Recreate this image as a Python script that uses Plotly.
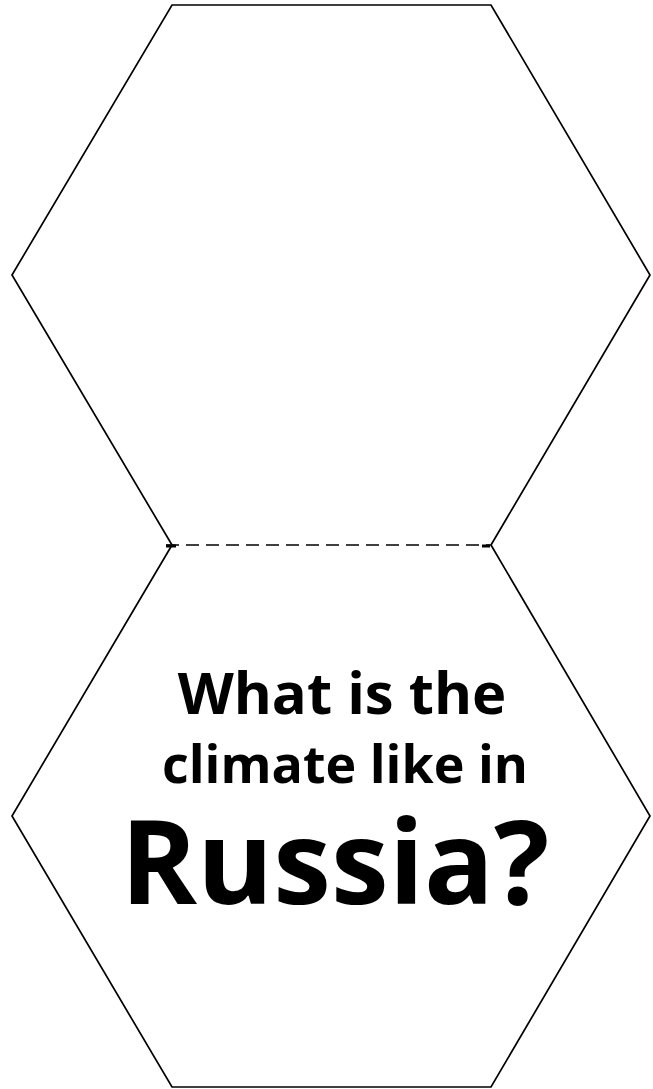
import plotly.graph_objects as go

# Hexagon outlines (pixel-space coordinates)
top_hex_x = [172, 12, 172, 491, 650, 491]
top_hex_y = [545, 275, 5, 5, 275, 545]
bot_hex_x = [172, 12, 172, 491, 650, 491]
bot_hex_y = [545, 816, 1087, 1087, 816, 545]
fold_x = [166, 491]
fold_y = [545, 545]
tab_x = [[166, 176], [482, 490]]
tab_y = [[546, 546], [546, 546]]

lines = ["What is the", "climate like in", "Russia?"]
line_x = [342, 345, 335]
line_y = [699, 770, 875]
line_size = [58, 52, 116]

W, H = 653, 1089

fig = go.Figure()
fig.add_trace(go.Scatter(x=top_hex_x, y=top_hex_y, mode="lines",
                         line=dict(color="black", width=1.7), hoverinfo="skip"))
fig.add_trace(go.Scatter(x=bot_hex_x, y=bot_hex_y, mode="lines",
                         line=dict(color="black", width=1.7), hoverinfo="skip"))
fig.add_trace(go.Scatter(x=fold_x, y=fold_y, mode="lines",
                         line=dict(color="black", width=1.7, dash="13px,7px"), hoverinfo="skip"))
for tx, ty in zip(tab_x, tab_y):
    fig.add_trace(go.Scatter(x=tx, y=ty, mode="lines",
                             line=dict(color="black", width=3), hoverinfo="skip"))
for t, x, y, s in zip(lines, line_x, line_y, line_size):
    fig.add_trace(go.Scatter(x=[x], y=[y], mode="text", text=[t],
                             textposition="middle center",
                             textfont=dict(family="Open Sans", size=s, color="black", weight=700),
                             hoverinfo="skip"))

fig.update_layout(
    width=W, height=H, margin=dict(l=0, r=0, t=0, b=0),
    paper_bgcolor="white", plot_bgcolor="white", showlegend=False,
    xaxis=dict(range=[0, W], visible=False, fixedrange=True),
    yaxis=dict(range=[H, 0], visible=False, fixedrange=True),
)
fig.write_html("out.html", config={"displayModeBar": False},
               post_script="document.body.style.margin='0';document.body.style.overflow='hidden';")
